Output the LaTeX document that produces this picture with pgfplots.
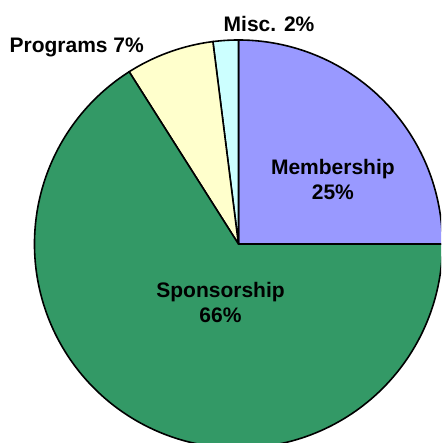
\documentclass[border=0pt]{standalone}
\usepackage{pgfplots}
\pgfplotsset{compat=1.18}
\usepackage{fontspec}
\setmainfont{Liberation Sans}
\definecolor{cMem}{HTML}{9999FF}
\definecolor{cMisc}{HTML}{CCFFFF}
\definecolor{cProg}{HTML}{FFFFCC}
\definecolor{cSpon}{HTML}{339966}
% shares in percent: Membership, Misc., Programs, Sponsorship
\def\vMem{25}\def\vMisc{2}\def\vProg{7}\def\vSpon{66}
\pgfmathsetmacro\aA{0}
\pgfmathsetmacro\aB{\aA+3.6*\vMem}
\pgfmathsetmacro\aC{\aB+3.6*\vMisc}
\pgfmathsetmacro\aD{\aC+3.6*\vProg}
\pgfmathsetmacro\aE{\aD+3.6*\vSpon}
\tikzset{lbl/.style={anchor=base, inner sep=0pt, font=\fontsize{21}{24}\selectfont\bfseries}}
\begin{document}
\begin{tikzpicture}
\begin{axis}[name=ax, scale only axis, width=441pt, height=443pt,
  xmin=-1.169, xmax=0.993, ymin=-0.975, ymax=1.196,
  hide axis, clip=true]
\addplot[fill=cMem, draw=black, line width=1.6pt, domain=\aA:\aB, samples=90, variable=\t] ({cos(\t)},{sin(\t)}) -- (axis cs:0,0) -- cycle;
\addplot[fill=cMisc, draw=black, line width=1.6pt, domain=\aB:\aC, samples=10, variable=\t] ({cos(\t)},{sin(\t)}) -- (axis cs:0,0) -- cycle;
\addplot[fill=cProg, draw=black, line width=1.6pt, domain=\aC:\aD, samples=30, variable=\t] ({cos(\t)},{sin(\t)}) -- (axis cs:0,0) -- cycle;
\addplot[fill=cSpon, draw=black, line width=1.6pt, domain=\aD:\aE, samples=240, variable=\t] ({cos(\t)},{sin(\t)}) -- (axis cs:0,0) -- cycle;
\node[lbl] at (axis cs:0.463,0.340) {Membership};
\node[lbl] at (axis cs:0.463,0.217) {25\%};
\node[lbl] at (axis cs:-0.088,-0.260) {Sponsorship};
\node[lbl] at (axis cs:-0.088,-0.383) {66\%};
\node[lbl] at (axis cs:-0.793,0.941) {Programs 7\%};
\node[lbl] at (axis cs:0.150,1.042) {Misc. 2\%};
\end{axis}
\pgfresetboundingbox
\path[use as bounding box] (ax.south west) rectangle (ax.north east);
\end{tikzpicture}
\end{document}
